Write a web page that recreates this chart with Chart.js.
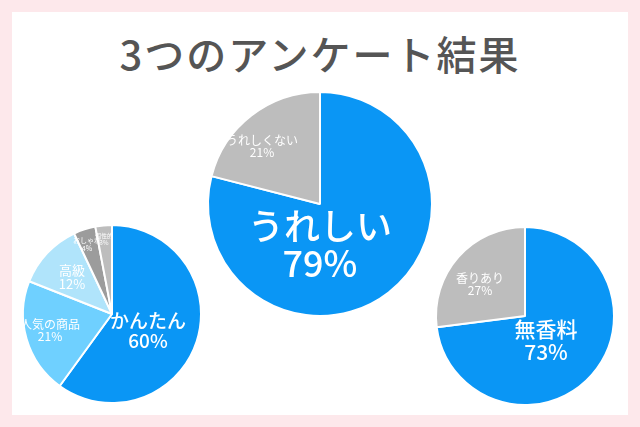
<!DOCTYPE html><html><head><meta charset="utf-8">
<script src="https://cdn.jsdelivr.net/npm/chart.js@4"></script>
<style>
body{margin:0;width:640px;height:427px;background:#fde8eb;position:relative;overflow:hidden;font-family:"Noto Sans CJK JP",sans-serif}
#inner{position:absolute;left:12px;top:12px;width:616px;height:403px;background:#fff}
h1{position:absolute;left:0;width:640px;top:24px;margin:0;text-align:center;font-size:40px;font-weight:500;color:#555;letter-spacing:2px}
canvas{position:absolute}
</style></head><body>
<div id="inner"></div>
<h1>3つのアンケート結果</h1>
<canvas id="c1"></canvas><canvas id="c2"></canvas><canvas id="c3"></canvas>
<script>
const leftLabels=["かんたん","人気の商品","高級","おしゃれ","個性的"];
const leftValues=[60,21,12,4,3];
const centerLabels=["うれしい","うれしくない"];
const centerValues=[79,21];
const rightLabels=["無香料","香りあり"];
const rightValues=[73,27];

const pies=[
 {id:"c1",cx:112,cy:314,r:90,labels:leftLabels,values:leftValues,
  colors:["#0a96f5","#6fd0ff","#b0e4fb","#9c9c9c","#bdbdbd"],
  text:[[36,16,19],[-62,16,12],[-40,-37,13],[-25,-70,7],[-8,-75,6]]},
 {id:"c2",cx:320,cy:204,r:113,labels:centerLabels,values:centerValues,
  colors:["#0a96f5","#bdbdbd"],text:[[0,40,36],[-58,-58,12]]},
 {id:"c3",cx:525,cy:316,r:90,labels:rightLabels,values:rightValues,
  colors:["#0a96f5","#bdbdbd"],text:[[21,24,21],[-45,-32,12]]}
];
const PAD=30;
pies.forEach(p=>{
 const cv=document.getElementById(p.id);const s=2*p.r+4+2*PAD;
 cv.width=s;cv.height=s;cv.style.left=(p.cx-s/2)+"px";cv.style.top=(p.cy-s/2)+"px";
 new Chart(cv,{type:"pie",data:{labels:p.labels,datasets:[{data:p.values,backgroundColor:p.colors,borderColor:"#fff",borderWidth:2}]},
 options:{responsive:false,animation:false,layout:{padding:PAD+2},plugins:{legend:{display:false},tooltip:{enabled:false}}},
 plugins:[{id:"lbl",afterDraw(ch){
  const c=ch.ctx;const a=ch.getDatasetMeta(0).data[0];
  c.save();c.fillStyle="#fff";c.textAlign="center";c.textBaseline="middle";
  p.labels.forEach((l,i)=>{const [dx,dy,fs]=p.text[i];
   c.font=(fs>=14?"500 ":"")+fs+"px 'Noto Sans CJK JP'";
   c.fillText(l,a.x+dx,a.y+dy-fs*0.5);c.fillText(p.values[i]+"%",a.x+dx,a.y+dy+fs*0.55);});
  c.restore();}}]});
});
</script></body></html>
